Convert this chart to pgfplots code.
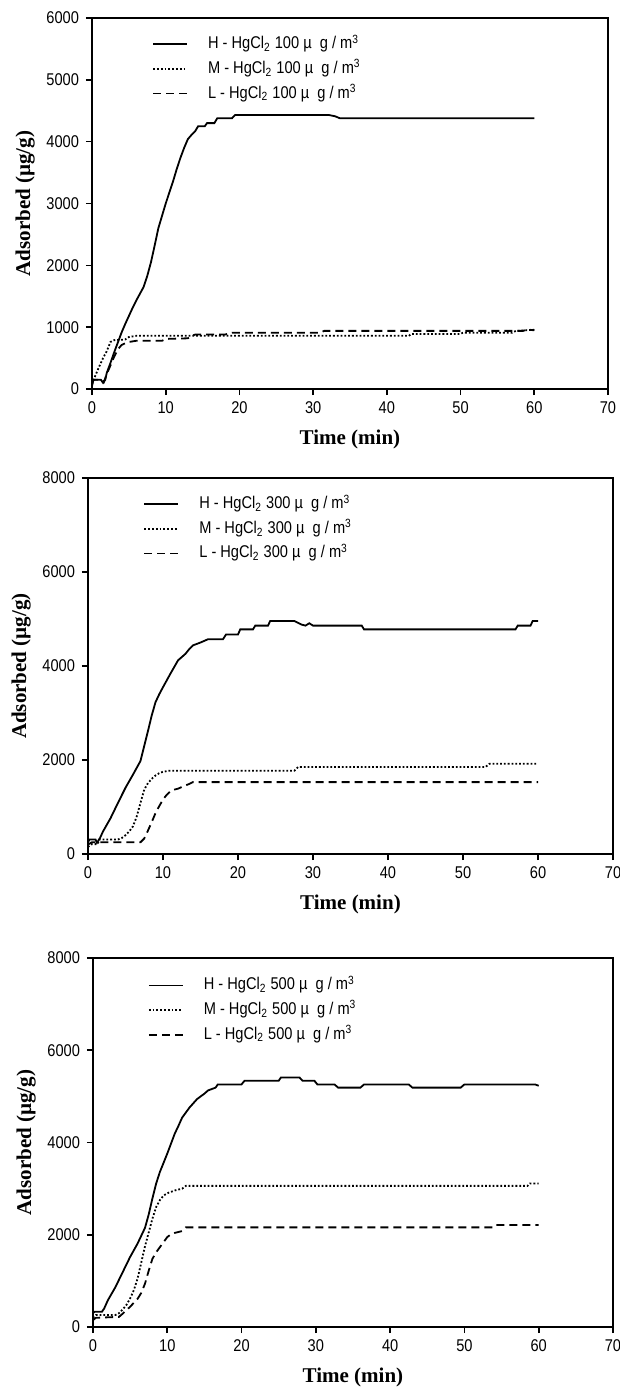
\documentclass[border=0pt]{standalone}
\usepackage{fontspec}
\setmainfont{Liberation Sans}
\newfontfamily\narrowfont[FakeStretch=0.86]{Liberation Sans}
\newfontfamily\timesfont{Liberation Serif}
\usepackage{pgfplots}
\pgfplotsset{compat=1.18}

\pgfplotsset{
  panel/.style={
    scale only axis,
    xmin=0, xmax=70, ymin=0,
    xtick={0,10,...,70},
    tick align=outside, xtick pos=bottom, ytick pos=left,
    major tick length=3pt,
    axis line style={line width=0.8pt},
    tick style={line width=0.8pt, black},
    tick label style={font=\narrowfont\fontsize{8.5}{10}\selectfont},
    /pgf/number format/assume math mode=true,
    /pgf/number format/1000 sep={},
    xlabel={\timesfont\bfseries Time (min)},
    ylabel={\timesfont\bfseries Adsorbed (µg/g)},
    label style={font=\fontsize{10.5}{12}\selectfont},
    xlabel style={yshift=-1pt},
    ylabel style={yshift=-1pt},
    legend cell align=left,
    legend style={draw=none, fill=none, inner sep=0pt, anchor=north west,
      font=\narrowfont\fontsize{8.5}{10}\selectfont, row sep=0.8pt,
      nodes={text height=6pt, text depth=1.5pt},
      /tikz/every odd column/.style={column sep=8pt}},
    legend image code/.code={\draw[#1] (0pt,0pt) -- (17pt,0pt);},
  },
  hline/.style={black, line width=0.9pt},
  mline/.style={black, line width=0.9pt, densely dotted},
  lline/.style={black, line width=0.9pt, dash pattern=on 4pt off 2.5pt},
}

\begin{document}
\begin{tikzpicture}
\path[use as bounding box] (0pt,0pt) rectangle (310pt,-696pt);

% panel 1: 100
\begin{axis}[panel, at={(46pt,-194.5pt)}, anchor=south west,
  width=258pt, height=185.5pt, ymax=6000, ytick={0,1000,...,6000},
  legend style={at={(0.116,0.961)}}]
\addplot[hline] coordinates {
(0,50) (0.2,150) (1.2,150) (1.5,100) (1.8,150) (2,260) (2.5,420) (3,590) (3.5,750)
(4,910) (4.5,1050) (5,1180) (5.5,1310) (6,1430) (6.5,1540) (7,1650) (7.5,1830)
(8,2050) (8.5,2320) (9,2600) (9.5,2800) (10,3000) (10.5,3180) (11,3360) (11.5,3560)
(12,3740) (12.5,3900) (13,4040) (13.5,4110) (14,4170) (14.4,4250) (15.3,4250)
(15.6,4300) (16.6,4300) (17,4380) (19,4380) (19.4,4430) (32.2,4430) (33,4410)
(33.6,4380) (60,4380)};
\addlegendentry{H - HgCl\textsubscript{2} 100 µ\ \ g / m\textsuperscript{3}}
\addplot[mline] coordinates {
(0,80) (0.5,230) (1,370) (1.5,500) (2,610) (2.5,760) (3,790) (4.5,800) (5,840)
(6,860) (43,860) (43.3,890) (50,890) (50.3,910) (57,910) (57.5,940) (60,960)};
\addlegendentry{M - HgCl\textsubscript{2} 100 µ\ \ g / m\textsuperscript{3}}
\addplot[lline] coordinates {
(0,100) (0.2,150) (1.3,150) (1.6,110) (2,240) (2.5,380) (3,520) (3.5,640) (4,710)
(4.5,740) (5,760) (6,780) (9.5,780) (10,810) (13,820) (13.5,860) (14,880) (18,880)
(19,910) (31,910) (31.5,940) (58.5,940) (59,960) (60,950)};
\addlegendentry{L - HgCl\textsubscript{2} 100 µ\ \ g / m\textsuperscript{3}}
\end{axis}

% panel 2: 300
\begin{axis}[panel, at={(44pt,-427pt)}, anchor=south west,
  width=262.5pt, height=188pt, ymax=8000, ytick={0,2000,...,8000},
  legend style={at={(0.105,0.962)}}]
\addplot[hline] coordinates {
(0,250) (0.2,310) (1,310) (1.2,240) (1.6,340) (2,480) (3,760) (4,1090) (5,1410)
(6,1690) (7,1980) (7.5,2300) (8,2620) (8.5,2950) (9,3230) (9.5,3400) (10,3550)
(11,3840) (12,4120) (13,4260) (13.5,4360) (14,4440) (15,4500) (16,4570) (18,4570)
(18.4,4670) (20,4670) (20.3,4780) (22,4780) (22.3,4860) (24,4860) (24.3,4960)
(27.5,4960) (28.5,4880) (29,4860) (29.5,4910) (30,4860) (36.5,4860) (36.8,4780)
(57,4780) (57.3,4860) (59,4860) (59.3,4960) (60,4960)};
\addlegendentry{H - HgCl\textsubscript{2} 300 µ\ \ g / m\textsuperscript{3}}
\addplot[mline] coordinates {
(0,150) (0.5,210) (1.3,210) (1.5,310) (4,310) (4.5,340) (5,400) (5.5,480) (6,590)
(6.5,800) (7,1090) (7.5,1370) (8,1510) (8.5,1600) (9,1670) (9.5,1720) (10,1750)
(10.8,1770) (27.5,1770) (28,1850) (53,1850) (53.5,1920) (60,1920)};
\addlegendentry{M - HgCl\textsubscript{2} 300 µ\ \ g / m\textsuperscript{3}}
\addplot[lline] coordinates {
(0,200) (0.5,250) (7,250) (7.5,330) (8,500) (8.5,680) (9,870) (9.5,1020) (10,1160)
(10.5,1260) (11,1340) (11.5,1370) (12,1390) (13,1460) (13.5,1490) (14,1530) (60,1530)};
\addlegendentry{L - HgCl\textsubscript{2} 300 µ\ \ g / m\textsuperscript{3}}
\end{axis}

% panel 3: 500
\begin{axis}[panel, at={(46.5pt,-663.5pt)}, anchor=south west,
  width=260pt, height=184.5pt, ymax=8000, ytick={0,2000,...,8000},
  legend style={at={(0.105,0.958)}}]
\addplot[hline] coordinates {
(0,300) (0.2,330) (1.2,330) (1.5,400) (2,580) (3,860) (4,1190) (5,1520) (6,1810)
(7,2150) (7.5,2440) (8,2790) (8.5,3110) (9,3360) (10,3760) (11,4190) (11.5,4360)
(12,4540) (13,4760) (14,4940) (15,5060) (15.5,5130) (16.5,5190) (16.8,5260) (20,5260)
(20.4,5340) (25,5340) (25.3,5410) (27.8,5410) (28.2,5340) (29.8,5340) (30.2,5260)
(32.5,5260) (33,5190) (36,5190) (36.5,5260) (42.5,5260) (43,5190) (49.5,5190)
(50,5260) (59.5,5260) (60,5230)};
\addlegendentry{H - HgCl\textsubscript{2} 500 µ\ \ g / m\textsuperscript{3}}
\addplot[mline] coordinates {
(0,200) (0.4,260) (3,260) (3.5,300) (4,380) (4.5,480) (5,620) (5.5,800) (6,1050)
(6.5,1400) (7,1750) (7.5,2050) (8,2350) (8.5,2600) (9,2750) (9.5,2850) (10,2900)
(11,2960) (12,3000) (12.5,3060) (58.5,3060) (58.8,3110) (60,3110)};
\addlegendentry{M - HgCl\textsubscript{2} 500 µ\ \ g / m\textsuperscript{3}}
\addplot[lline] coordinates {
(0,150) (0.4,200) (3.5,220) (4,290) (5,440) (6,610) (6.5,740) (7,940) (7.5,1220)
(8,1480) (8.5,1620) (9,1730) (9.5,1840) (10,1950) (10.5,2010) (11,2040) (12,2080)
(12.5,2160) (54,2160) (54.3,2210) (60,2210)};
\addlegendentry{L - HgCl\textsubscript{2} 500 µ\ \ g / m\textsuperscript{3}}
\end{axis}
\end{tikzpicture}
\end{document}
